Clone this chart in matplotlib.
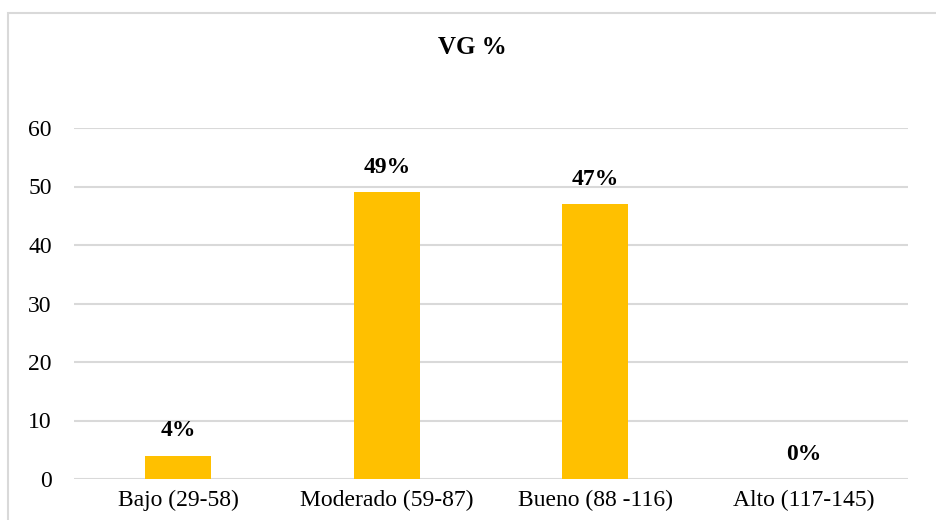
#VG % bar chart
import numpy as np
import matplotlib
matplotlib.use('Agg')
import matplotlib.pyplot as plt
from matplotlib.patches import Rectangle

plt.rcParams['font.family'] = ['Liberation Serif', 'DejaVu Serif']

categories = ['Bajo (29-58)', 'Moderado (59-87)', 'Bueno (88 -116)', 'Alto (117-145)']
values = [4, 49, 47, 0]
labels = ['4%', '49%', '47%', '0%']
yticks = [0, 10, 20, 30, 40, 50, 60]

W, H = 937, 520
fig = plt.figure(figsize=(W / 100, H / 100), dpi=100)
ax = fig.add_axes([74 / W, 1 - 479 / H, (908 - 74) / W, (479 - 128) / H])

index = np.arange(len(categories))
ax.bar(index, values, 0.317, color='#FFC000', zorder=3)

for x, v, lab in zip(index, values, labels):
    ax.annotate(lab, (x, v), xytext=(0, 18), textcoords='offset points',
                ha='center', va='center', fontsize=17, fontweight='bold')

ax.set_xlim(-0.5, len(categories) - 0.5)
ax.set_ylim(0, 60)
ax.set_yticks(yticks)
ax.set_xticks(index)
ax.set_xticklabels(categories)
ax.tick_params(axis='both', length=0, labelsize=17)
ax.tick_params(axis='y', pad=16)
ax.tick_params(axis='x', pad=8)
ax.grid(axis='y', color='#D9D9D9', linewidth=1.5, zorder=0)
for s in ax.spines.values():
    s.set_visible(False)

fig.text(472 / W, 1 - 47 / H, 'VG %', ha='center', va='center',
         fontsize=18, fontweight='bold')

# chart border (cropped at right and bottom)
fig.patches.append(Rectangle((8 / W, -0.05), 1.2, 1 - 13 / H + 0.05,
                             transform=fig.transFigure, fill=False,
                             edgecolor='#D9D9D9', linewidth=1.5))

fig.savefig('out.png', dpi=100)
